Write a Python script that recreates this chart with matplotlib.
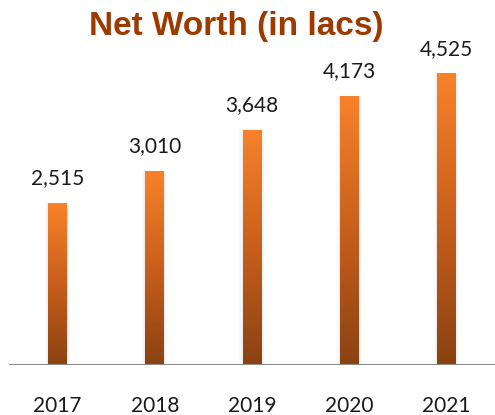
import matplotlib
matplotlib.use("Agg")
import matplotlib.pyplot as plt
import numpy as np
from matplotlib.colors import LinearSegmentedColormap
from matplotlib.patches import Rectangle

years = ["2017", "2018", "2019", "2020", "2021"]
values = [2515, 3010, 3648, 4173, 4525]
labels = ["2,515", "3,010", "3,648", "4,173", "4,525"]

fig = plt.figure(figsize=(4.95, 4.15), dpi=100)
ax = fig.add_axes([9/495, 50/415, 486/495, 322.5/415])
ax.set_xlim(-0.5, 4.5)
ax.set_ylim(0, 5000)

cmap = LinearSegmentedColormap.from_list("og", ["#8A4212", "#C85F1C", "#F8822A"])
x = np.arange(len(years))
bars = ax.bar(x, values, width=0.195, color="none", zorder=3)
grad = np.linspace(0, 1, 256).reshape(-1, 1)
for b in bars:
    x0, y0, w, h = b.get_x(), b.get_y(), b.get_width(), b.get_height()
    # soft shadow
    for k, a in [(0.035, 0.03), (0.022, 0.05), (0.01, 0.07)]:
        ax.add_patch(Rectangle((x0 - k, y0), w + 2 * k, h + k * 150,
                               facecolor="#909090", alpha=a, edgecolor="none", zorder=2))
    im = ax.imshow(grad, extent=(x0, x0 + w, y0, y0 + h), origin="lower",
                   cmap=cmap, aspect="auto", zorder=3)
    im.set_clip_path(b)

for xi, v, lab in zip(x, values, labels):
    ax.text(xi, v + 380, lab, ha="center", va="center", fontsize=15,
            family=["Lato", "DejaVu Sans"], color="#1a1a1a")

ax.axhline(0, color="#8c8c8c", lw=1.5, zorder=4)
for s in ax.spines.values():
    s.set_visible(False)
ax.set_yticks([])
ax.set_xticks(x)
ax.set_xticklabels(years, fontsize=15, family=["Lato", "DejaVu Sans"], color="#1a1a1a")
ax.tick_params(axis="x", length=0, pad=22)

fig.text(236/495, 1 - 27/415, "Net Worth (in lacs)", ha="center", va="center",
         fontsize=24, fontweight="bold", family=["Liberation Sans", "DejaVu Sans"],
         color="#9C3A00")

fig.savefig("out.png", dpi=100)
